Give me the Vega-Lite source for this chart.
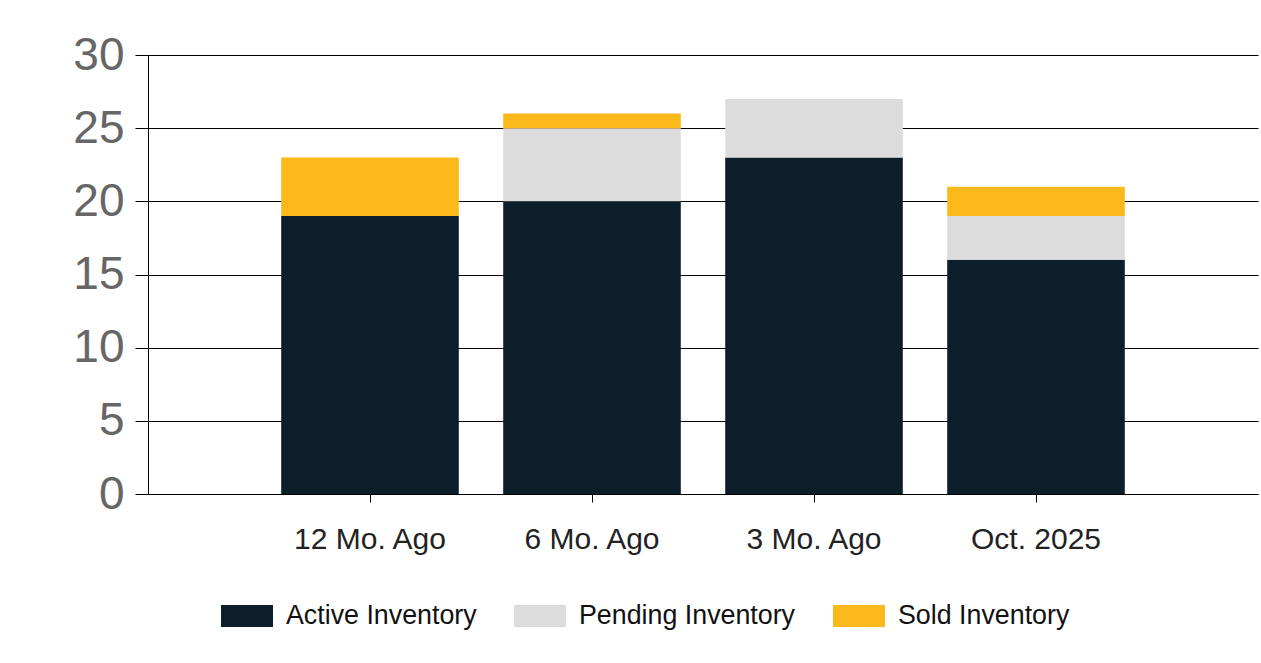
{
  "$schema": "https://vega.github.io/schema/vega-lite/v6.json",
  "autosize": {"type": "none"},
  "padding": {"left": 148, "top": 55, "right": 3, "bottom": 169},
  "width": 1110,
  "height": 439,
  "background": "white",
  "config": {
    "font": "Liberation Sans",
    "view": {"stroke": null},
    "axis": {"domainColor": "black", "tickColor": "black", "gridColor": "black", "gridOpacity": 1, "domainWidth": 1, "tickWidth": 1, "gridWidth": 1, "title": null}
  },
  "data": {
    "values": [
      {"Period": "12 Mo. Ago", "Series": "Active Inventory", "Value": 19},
      {"Period": "12 Mo. Ago", "Series": "Pending Inventory", "Value": 0},
      {"Period": "12 Mo. Ago", "Series": "Sold Inventory", "Value": 4},
      {"Period": "6 Mo. Ago", "Series": "Active Inventory", "Value": 20},
      {"Period": "6 Mo. Ago", "Series": "Pending Inventory", "Value": 5},
      {"Period": "6 Mo. Ago", "Series": "Sold Inventory", "Value": 1},
      {"Period": "3 Mo. Ago", "Series": "Active Inventory", "Value": 23},
      {"Period": "3 Mo. Ago", "Series": "Pending Inventory", "Value": 4},
      {"Period": "3 Mo. Ago", "Series": "Sold Inventory", "Value": 0},
      {"Period": "Oct. 2025", "Series": "Active Inventory", "Value": 16},
      {"Period": "Oct. 2025", "Series": "Pending Inventory", "Value": 3},
      {"Period": "Oct. 2025", "Series": "Sold Inventory", "Value": 2}
    ]
  },
  "mark": {"type": "bar"},
  "encoding": {
    "x": {
      "field": "Period",
      "type": "nominal",
      "sort": ["12 Mo. Ago", "6 Mo. Ago", "3 Mo. Ago", "Oct. 2025"],
      "scale": {"paddingInner": 0.2, "paddingOuter": 0.6},
      "axis": {"labelAngle": 0, "labelFontSize": 30, "labelColor": "#222222", "tickSize": 8, "labelPadding": 22, "grid": false, "domain": true}
    },
    "y": {
      "field": "Value",
      "type": "quantitative",
      "stack": "zero",
      "scale": {"domain": [0, 30], "nice": false},
      "axis": {"values": [0, 5, 10, 15, 20, 25, 30], "labelFontSize": 46, "labelColor": "#666666", "tickSize": 13, "labelPadding": 11, "grid": true, "domain": true}
    },
    "color": {
      "field": "Series",
      "type": "nominal",
      "scale": {"domain": ["Active Inventory", "Pending Inventory", "Sold Inventory"], "range": ["#0c1e2a", "#dcdcdc", "#fbb81a"]},
      "legend": {
        "title": null,
        "orient": "none",
        "direction": "horizontal",
        "legendX": 73,
        "legendY": 535,
        "padding": 0,
        "symbolType": "M-1,-0.423H1V0.423H-1Z",
        "symbolSize": 2704,
        "symbolStrokeWidth": 0,
        "symbolOpacity": 1,
        "labelFontSize": 26.8,
        "labelColor": "#111111",
        "labelOffset": 13,
        "columnPadding": 37,
        "labelLimit": 400
      }
    },
    "order": {"field": "Series", "sort": "ascending"}
  }
}
